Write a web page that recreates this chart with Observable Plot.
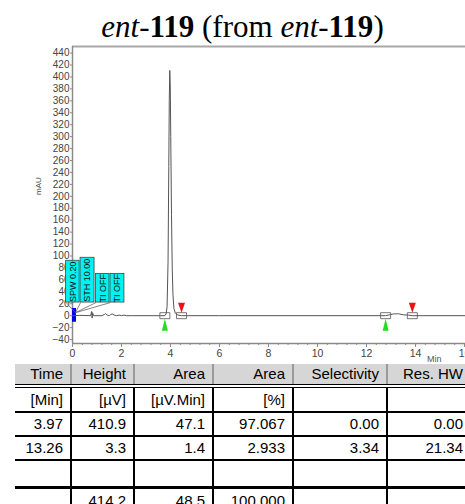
<!DOCTYPE html>
<html><head><meta charset="utf-8">
<script src="https://cdn.jsdelivr.net/npm/d3@7"></script>
<script src="https://cdn.jsdelivr.net/npm/@observablehq/plot@0.6"></script>
<style>
body{margin:0;width:465px;height:504px;overflow:hidden;background:#fff;position:relative;font-family:"Liberation Sans",Arial,sans-serif}
#title{position:absolute;left:0;top:11px;width:485px;text-align:center;font-family:"Liberation Serif","Times New Roman",serif;font-size:31px;line-height:32px;color:#000;white-space:nowrap}
#chart{position:absolute;left:0;top:45px}
#tbl{position:absolute;left:15px;top:364px;border-collapse:collapse;table-layout:fixed;font-size:15px;color:#000}
#tbl td{padding:0 7px 0 0;text-align:right;border-right:2px solid #000;white-space:nowrap;overflow:hidden}
#tbl td:last-child{border-right:none;padding-right:2px}
#tbl tr.head td{background:#d6d6d6;border-right:2px solid #9a9a9a;height:20px;line-height:20px;border-bottom:4px double #000}
#tbl tr.head td:last-child{border-right:none}
#tbl tr.r td{border-bottom:2px solid #000}
#tbl tr.gap td{border-bottom:3px solid #000}
</style>
</head><body>
<div id="title"><i>ent</i>-<b>119</b> (from <i>ent</i>-<b>119</b>)</div>
<div id="chart"></div>
<table id="tbl"></table>
<script>
// ---- chromatogram data ----
const traceTime   = [0, 0.3, 0.74, 0.78, 0.8, 0.82, 0.86, 1.2, 1.3, 1.35, 1.42, 1.5, 1.56, 1.62, 1.7, 1.8, 1.9, 2.0, 2.1, 2.2, 2.4, 3.6, 3.77, 3.82, 3.86, 3.9, 3.93, 3.95, 3.97, 3.99, 4.01, 4.04, 4.07, 4.1, 4.14, 4.2, 4.3, 4.45, 6, 12.78, 12.95, 13.1, 13.2, 13.26, 13.35, 13.5, 13.7, 13.87, 16.04];
const traceSignal = [0, 0.5, 0, 7, -4, 5, 0, 0, 2, 3.5, 1, 0, 2, 3, 1, 0, 1, 0, 1, 0, 0, 0, 0, 3, 15, 90, 250, 360, 410.9, 385, 300, 170, 80, 35, 12, 4, 1, 0, 0, 0, 1.5, 3, 3, 3.3, 2.8, 1.5, 1, 0, 0];
const peakTimes   = [3.97, 13.26];
const peakHeights = [410.9, 3.3];
const peakStarts  = [3.77, 12.78];
const peakEnds    = [4.45, 13.87];
// timed events (annotation boxes, in minutes / mAU)
const eventLabels    = ["SPW 0.20", "STH 10.00", "TI OFF", "TI OFF"];
const eventBoxStart  = [-0.26, 0.33, 0.96, 1.55];
const eventBoxEnd    = [0.29, 0.90, 1.51, 2.12];
const eventBoxTop    = [92, 97, 70, 70];
const eventBoxBottom = [22, 22, 22, 22];
const injectionTime  = [0];
// axes
const xTickLabels = [0, 2, 4, 6, 8, 10, 12, 14, 16];
const yTickLabels = [-40, -20, 0, 20, 40, 60, 80, 100, 120, 140, 160, 180, 200, 220, 240, 260, 280, 300, 320, 340, 360, 380, 400, 420, 440];
const xMinorTicks = d3.range(0, 16.05, 0.4);
const xDomain = [0, 16.04];
const yDomain = [-46.6, 451];
// ---- result table ----
const colHeaders = ["Time", "Height", "Area", "Area", "Selectivity", "Res. HW"];
const colUnits   = ["[Min]", "[µV]", "[µV.Min]", "[%]", "", ""];
const resTime    = ["3.97", "13.26"];
const resHeight  = ["410.9", "3.3"];
const resArea    = ["47.1", "1.4"];
const resAreaPct = ["97.067", "2.933"];
const resSelect  = ["0.00", "3.34"];
const resResHW   = ["0.00", "21.34"];
const totals     = ["", "414.2", "48.5", "100.000", "", ""];
const colWidths  = [56, 63, 79, 80, 94, 78];

const trace = traceTime.map((t, i) => ({t, v: traceSignal[i]}));
const events = eventLabels.map((label, i) => ({label, x1: eventBoxStart[i], x2: eventBoxEnd[i], y1: eventBoxBottom[i], y2: eventBoxTop[i]}));
const starts = peakStarts.map(t => ({t, v: 0}));
const ends = peakEnds.map(t => ({t, v: 0}));
const markers = starts.concat(ends);

const rectSym = {draw(ctx){ ctx.rect(-5, -3, 10, 6); }};
const triUp = {draw(ctx){ ctx.moveTo(0, -6); ctx.lineTo(3, 6); ctx.lineTo(-3, 6); ctx.closePath(); }};
const triDown = {draw(ctx){ ctx.moveTo(0, 5); ctx.lineTo(3.5, -5); ctx.lineTo(-3.5, -5); ctx.closePath(); }};

const axisColor = "#8a8a8a";
const chart = Plot.plot({
  width: 465, height: 318,
  marginLeft: 72, marginRight: 0, marginTop: 1, marginBottom: 20,
  style: {fontFamily: "'Liberation Sans', Arial, sans-serif", background: "transparent", overflow: "visible"},
  x: {domain: xDomain},
  y: {domain: yDomain},
  marks: [
    // frame lines
    Plot.ruleY([yDomain[1]], {stroke: "#a8a8a8", strokeWidth: 2}),
    Plot.ruleX([0], {stroke: axisColor, strokeWidth: 1.5}),
    Plot.ruleY([yDomain[0]], {stroke: axisColor, strokeWidth: 1.5}),
    Plot.axisY({ticks: yTickLabels, tickSize: 2, tickPadding: 1, fontSize: 10, stroke: axisColor, fill: "#444", label: null}),
    Plot.axisX({ticks: xMinorTicks, tickSize: 2, text: null, stroke: axisColor, label: null}),
    Plot.axisX({ticks: xTickLabels, tickSize: 4, tickPadding: 2, fontSize: 10.5, stroke: axisColor, fill: "#444", label: null}),
    Plot.text(["mAU"], {frameAnchor: "left", text: d => d, rotate: -90, dx: -34, fontSize: 8, fill: "#444"}),
    Plot.text(["Min"], {frameAnchor: "bottom-right", text: d => d, dx: -24, dy: 18, fontSize: 9, fill: "#555"}),
    // injection marker
    Plot.ruleX(injectionTime, {y1: -11, y2: 12, stroke: "#0000ee", strokeWidth: 4, dx: 1.5}),
    // event leader lines
    Plot.link(events, {x1: "x1", y1: "y1", x2: () => 0.12, y2: () => 5, stroke: "#666", strokeWidth: 0.8}),
    Plot.rect(events, {x1: "x1", x2: "x2", y1: "y1", y2: "y2", fill: "#00f2f2", stroke: "#444", strokeWidth: 0.8, inset: 0}),
    Plot.text(events, {x: d => (d.x1 + d.x2) / 2, y: d => (d.y1 + d.y2) / 2, text: "label", rotate: -90, fontSize: 9, fill: "#111"}),
    // chromatogram
    Plot.line(trace, {x: "t", y: "v", stroke: "#555", strokeWidth: 1}),
    // peak start/end boxes and triangles
    Plot.dot(markers, {x: "t", y: "v", symbol: rectSym, stroke: "#555", strokeWidth: 0.8, fill: "none"}),
    Plot.dot(starts, {x: "t", y: "v", symbol: triUp, fill: "#22dd22", stroke: "none", dy: 9}),
    Plot.dot(ends, {x: "t", y: "v", symbol: triDown, fill: "#ee1111", stroke: "none", dy: -8})
  ]
});
document.getElementById("chart").appendChild(chart);

// table
const tbl = document.getElementById("tbl");
const cg = document.createElement("colgroup");
colWidths.forEach(w => { const c = document.createElement("col"); c.style.width = w + "px"; cg.appendChild(c); });
tbl.appendChild(cg);
function addRow(cells, cls, h) {
  const tr = document.createElement("tr");
  if (cls) tr.className = cls;
  cells.forEach(c => { const td = document.createElement("td"); td.textContent = c; td.style.height = h + "px"; td.style.lineHeight = h + "px"; tr.appendChild(td); });
  tbl.appendChild(tr);
}
addRow(colHeaders, "head", 20);
addRow(colUnits, "r", 23);
resTime.forEach((t, i) => addRow([t, resHeight[i], resArea[i], resAreaPct[i], resSelect[i], resResHW[i]], "r", 22));
addRow(["", "", "", "", "", ""], "gap", 25);
addRow(totals, "", 24);
</script>
</body></html>
